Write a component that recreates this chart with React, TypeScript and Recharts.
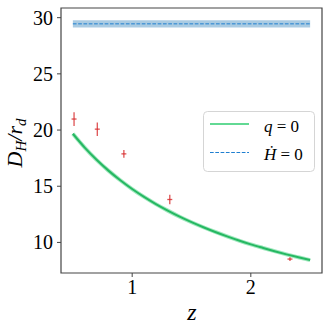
import React from "react";
import {
  ComposedChart,
  XAxis,
  YAxis,
  Line,
  Area,
  Scatter,
  ErrorBar,
  ReferenceArea,
  Label,
} from "recharts";

// q = 0 model curve (green)
const qZ = [0.5, 0.6, 0.7, 0.8, 0.9, 1.0, 1.1, 1.2, 1.3, 1.4, 1.5, 1.6, 1.7, 1.8, 1.9, 2.0, 2.1, 2.2, 2.3, 2.4, 2.5];
const qVal = [19.67, 18.44, 17.35, 16.39, 15.53, 14.75, 14.05, 13.41, 12.83, 12.29, 11.8, 11.35, 10.93, 10.54, 10.17, 9.83, 9.52, 9.22, 8.94, 8.68, 8.43];

// Hdot = 0 model (blue dashed with band)
const hZ = [0.5, 2.5];
const hVal = [29.45, 29.45];
const hLo = [29.12, 29.12];
const hHi = [29.78, 29.78];

// measurements (red)
const obsZ = [0.51, 0.706, 0.93, 1.317, 2.33];
const obsVal = [20.98, 20.08, 17.88, 13.82, 8.52];
const obsErr = [0.61, 0.6, 0.35, 0.42, 0.17];

const xTicks = [1, 2];
const yTicks = [10, 15, 20, 25, 30];
const legendLabels = ["q", "Ḣ"];

const qData = qZ.map((z, i) => ({ z, v: qVal[i] }));
const hData = hZ.map((z, i) => ({ z, v: hVal[i], band: [hLo[i], hHi[i]] }));
const obsData = obsZ.map((z, i) => ({ z, v: obsVal[i], err: obsErr[i] }));

const FONT = "Liberation Serif";
const RED = "#d62728";

const Marker = (props: any) => {
  const { cx, cy } = props;
  return <line x1={cx - 2.5} x2={cx + 2.5} y1={cy} y2={cy} stroke={RED} strokeOpacity={0.8} strokeWidth={1.3} />;
};

const XTick = (props: any) => {
  const { x, y, payload } = props;
  return (
    <text x={x} y={y} dy={14} textAnchor="middle" fontFamily={FONT} fontSize={20} fill="#000">
      {payload.value}
    </text>
  );
};

const YTick = (props: any) => {
  const { x, y, payload } = props;
  return (
    <text x={x} y={y} dy={7} textAnchor="end" fontFamily={FONT} fontSize={20} fill="#000">
      {payload.value}
    </text>
  );
};

const YLab = () => (
  <text
    transform="rotate(-90)"
    x={-143}
    y={22}
    textAnchor="middle"
    fontFamily={FONT}
    fontSize={22}
    fontStyle="italic"
    fill="#000"
  >
    D
    <tspan dy={4} fontSize={15}>H</tspan>
    <tspan dy={-4}>/r</tspan>
    <tspan dy={4} fontSize={15}>d</tspan>
  </text>
);

const XLab = () => (
  <text x={192} y={320} textAnchor="middle" fontFamily={FONT} fontSize={24} fontStyle="italic" fill="#000">
    z
  </text>
);

const LegendBox = () => (
  <svg width={112} height={61} style={{ display: "block" }}>
    <rect x={0.5} y={0.5} width={111} height={60} rx={4} ry={4} fill="#fff" fillOpacity={0.85} stroke="#d5d5d5" />
    <line x1={7} x2={46} y1={13} y2={13} stroke="#2ecc71" strokeWidth={1.5} />
    <text x={61} y={20.5} fontFamily={FONT} fontSize={17} fill="#000">
      <tspan fontStyle="italic">{legendLabels[0]}</tspan> = 0
    </text>
    <line x1={7} x2={46} y1={41.5} y2={41.5} stroke="#1f7fd0" strokeWidth={1} strokeDasharray="3.7 1.6" />
    <text x={61} y={49} fontFamily={FONT} fontSize={17} fill="#000">
      <tspan fontStyle="italic">{legendLabels[1]}</tspan> = 0
    </text>
  </svg>
);

export default function App() {
  return (
    <div style={{ position: "absolute", left: 0, top: 0, width: 332, height: 332, background: "#fff" }}>
      <ComposedChart width={332} height={332} margin={{ top: 8, right: 10, bottom: 0, left: 0 }}>
        <XAxis
          type="number"
          dataKey="z"
          domain={[0.4, 2.6]}
          ticks={xTicks}
          allowDataOverflow
          height={59}
          tickSize={4}
          tickMargin={3}
          stroke="#444"
          tick={XTick}
          axisLine={false}
        >
          <Label content={XLab} />
        </XAxis>
        <YAxis
          type="number"
          domain={[7.28, 30.86]}
          ticks={yTicks}
          allowDataOverflow
          width={61}
          tickSize={4}
          tickMargin={4}
          stroke="#444"
          tick={YTick}
          axisLine={false}
        >
          <Label content={YLab} />
        </YAxis>
        <Area
          data={hData}
          dataKey="band"
          type="linear"
          stroke="none"
          fill="#1f77b4"
          fillOpacity={0.38}
          isAnimationActive={false}
          activeDot={false}
        />
        <Line
          data={hData}
          dataKey="v"
          type="linear"
          stroke="#1f7fd0"
          strokeWidth={1}
          strokeDasharray="3.7 1.6"
          dot={false}
          isAnimationActive={false}
        />
        <Line
          data={qData}
          dataKey="v"
          type="monotone"
          stroke="#2ecc71"
          strokeOpacity={0.45}
          strokeWidth={4}
          dot={false}
          isAnimationActive={false}
        />
        <Line
          data={qData}
          dataKey="v"
          type="monotone"
          stroke="#26b862"
          strokeWidth={2}
          dot={false}
          isAnimationActive={false}
        />
        <Scatter data={obsData} dataKey="v" shape={Marker} isAnimationActive={false}>
          <ErrorBar dataKey="err" direction="y" width={0} stroke={RED} strokeOpacity={0.8} strokeWidth={1.3} />
        </Scatter>
        <ReferenceArea x1={0.4} x2={2.6} y1={7.28} y2={30.86} fill="none" stroke="#444" strokeWidth={1.2} ifOverflow="visible" />
      </ComposedChart>
      <div style={{ position: "absolute", left: 203, top: 111, width: 112, height: 61 }}>
        <LegendBox />
      </div>
    </div>
  );
}
